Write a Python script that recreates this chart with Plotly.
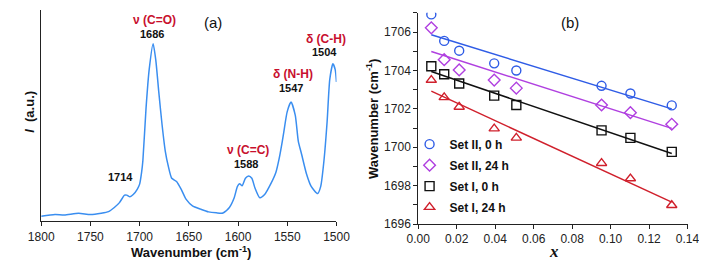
import plotly.graph_objects as go
import numpy as np

W, H = 707, 261

# ---- Panel (a): IR spectrum ----
wavenumber = [1800, 1786, 1776.5, 1762, 1750, 1739, 1731.6, 1725.7, 1720.5, 1715.3, 1713,
              1709.8, 1706.5, 1702.3, 1700, 1698, 1696.7, 1693.5, 1690.3, 1686.3, 1683.6,
              1680.5, 1677.2, 1674, 1670.7, 1667.4, 1662.5, 1657.6, 1652.7, 1646.3, 1638,
              1630, 1622, 1615.3, 1608.8, 1603.9, 1600.6, 1598.4, 1595.8, 1592.5, 1589.2,
              1586, 1582.8, 1577.9, 1573, 1566.4, 1561.6, 1558.3, 1555, 1553.4, 1550.1,
              1546.2, 1541.9, 1538.8, 1535.5, 1530.6, 1525.7, 1519.2, 1516, 1512.7, 1509.5,
              1506.8, 1503.6, 1501.3, 1500]
intensity = [5, 6.7, 6.3, 8, 6.7, 8, 9.7, 14, 19, 26.7, 26.7,
             25, 27.3, 33, 38, 50, 62, 115.7, 155.7, 182.3, 165.7,
             132.3, 99, 72.3, 55.7, 44, 40.7, 32.3, 22.3, 15.7, 12.3,
             9.5, 8.5, 8.3, 14, 24, 35.7, 38.3, 36.3, 44, 46.3,
             44, 34, 24, 27.3, 39, 50, 64, 82.3, 92.3, 112.3,
             122.3, 109, 82.3, 69, 49, 35.7, 28.3, 35.7, 62.3, 102.3,
             145.7, 161.7, 155.7, 143]

# ---- Panel (b): wavenumber vs x ----
x_vals = [0.0068, 0.0135, 0.0213, 0.0395, 0.051, 0.0953, 0.1103, 0.1318]
set2_0h = [1706.92, 1705.54, 1705.03, 1704.37, 1704.0, 1703.2, 1702.8, 1702.18]
set2_24h = [1706.22, 1704.56, 1704.03, 1703.5, 1703.08, 1702.2, 1701.8, 1701.2]
set1_0h = [1704.22, 1703.8, 1703.32, 1702.69, 1702.2, 1700.88, 1700.49, 1699.76]
set1_24h = [1703.5, 1702.6, 1702.1, 1700.97, 1700.49, 1699.17, 1698.37, 1696.98]

series = [
    ("Set II, 0 h", set2_0h, "circle-open", "#2f5ce6"),
    ("Set II, 24 h", set2_24h, "diamond-open", "#b040e0"),
    ("Set I, 0 h", set1_0h, "square-open", "#111111"),
    ("Set I, 24 h", set1_24h, "triangle-up-open", "#d0202c"),
]

FONT = "Arial, Liberation Sans, sans-serif"

def px(x):
    return x / W

def py(y):
    return 1 - y / H

fig = go.Figure()

fig.add_trace(go.Scatter(x=wavenumber, y=intensity, mode="lines",
                         line=dict(color="#3a8ef0", width=1.5, shape="spline", smoothing=0.6),
                         showlegend=False, xaxis="x", yaxis="y"))

xs = np.array(x_vals)
for name, ys, sym, col in series:
    k, b = np.polyfit(xs, np.array(ys), 1)
    xl = [xs.min(), xs.max()]
    fig.add_trace(go.Scatter(x=xl, y=[k * v + b for v in xl], mode="lines",
                             line=dict(color=col, width=1.5), showlegend=False,
                             xaxis="x2", yaxis="y2", hoverinfo="skip"))
for i, (name, ys, sym, col) in enumerate(series):
    fig.add_trace(go.Scatter(x=x_vals, y=ys, mode="markers", name="<b>" + name + "</b>",
                             legendgroup="g%d" % i,
                             marker=dict(symbol=sym, size=9, color=col, line=dict(width=1.4, color=col)),
                             xaxis="x2", yaxis="y2"))

axis_common = dict(showgrid=False, zeroline=False, showline=True, linecolor="#222222",
                   linewidth=1, tickfont=dict(family=FONT, size=12, color="#222222"))

fig.update_layout(
    width=W, height=H, margin=dict(l=0, r=0, t=0, b=0),
    paper_bgcolor="white", plot_bgcolor="white",
    font=dict(family=FONT, color="#222222"),
    xaxis=dict(domain=[px(21), px(328)], range=[1800, 1500], dtick=50, tick0=1500,
               ticks="outside", ticklen=4, tickcolor="#222222", anchor="y", **axis_common),
    yaxis=dict(domain=[py(219), py(2)], range=[0, 217], showticklabels=False, ticks="",
               anchor="x", **axis_common),
    xaxis2=dict(domain=[px(413), px(693)], range=[0, 0.14], dtick=0.02, tickformat=".2f",
                ticks="outside", ticklen=4, tickcolor="#222222", anchor="y2", **axis_common),
    yaxis2=dict(domain=[py(222), py(5)], range=[1696, 1707], dtick=2, tick0=1696,
                ticks="outside", ticklen=4, tickcolor="#222222", anchor="x2",
                minor=dict(dtick=1, ticks="outside", ticklen=4, tickcolor="#222222"),
                **axis_common),
    legend=dict(x=px(404), y=py(125), xanchor="left", yanchor="top",
                bgcolor="rgba(0,0,0,0)", font=dict(family=FONT, size=12, color="#111111"),
                itemwidth=30, tracegroupgap=2),
    showlegend=True,
)

RED = "#c8102e"
ann = [
    ("<b>ν (C=O)</b>", 139, 12.3, RED, 12),
    ("<b>1686</b>", 136, 26.7, "#111111", 11),
    ("(a)", 200, 15, "#111111", 15),
    ("<b>δ (C-H)</b>", 317.5, 32.3, RED, 12),
    ("<b>1504</b>", 316, 45.7, "#111111", 11),
    ("<b>δ (N-H)</b>", 283, 67.7, RED, 12),
    ("<b>1547</b>", 281, 81.7, "#111111", 11),
    ("<b>ν (C=C)</b>", 236, 145.7, RED, 12),
    ("<b>1588</b>", 233.5, 160.7, "#111111", 11),
    ("<b>1714</b>", 103, 173.3, "#111111", 11),
    ("(b)", 571, 15, "#111111", 15),
    ("<b>Wavenumber (cm<sup>-1</sup>)</b>", 177, 251, "#111111", 13),
    ("<b><i>x</i></b>", 554, 250, "#111111", 17),
]
for text, x, y, col, size in ann:
    fam = FONT
    if text == "<b><i>x</i></b>":
        fam = "Liberation Serif, Times New Roman, serif"
    fig.add_annotation(text=text, x=px(x), y=py(y), xref="paper", yref="paper",
                       showarrow=False, xanchor="center", yanchor="middle",
                       font=dict(family=fam, size=size, color=col))

fig.add_annotation(text="<b><i>I</i>  (a.u.)</b>", x=px(8), y=py(107), xref="paper", yref="paper",
                   showarrow=False, textangle=-90, xanchor="center", yanchor="middle",
                   font=dict(family=FONT, size=13, color="#111111"))
fig.add_annotation(text="<b>Wavenumber (cm<sup>-1</sup>)</b>", x=px(365), y=py(114),
                   xref="paper", yref="paper", showarrow=False, textangle=-90,
                   xanchor="center", yanchor="middle",
                   font=dict(family=FONT, size=13, color="#111111"))

fig.write_html("out.html")
